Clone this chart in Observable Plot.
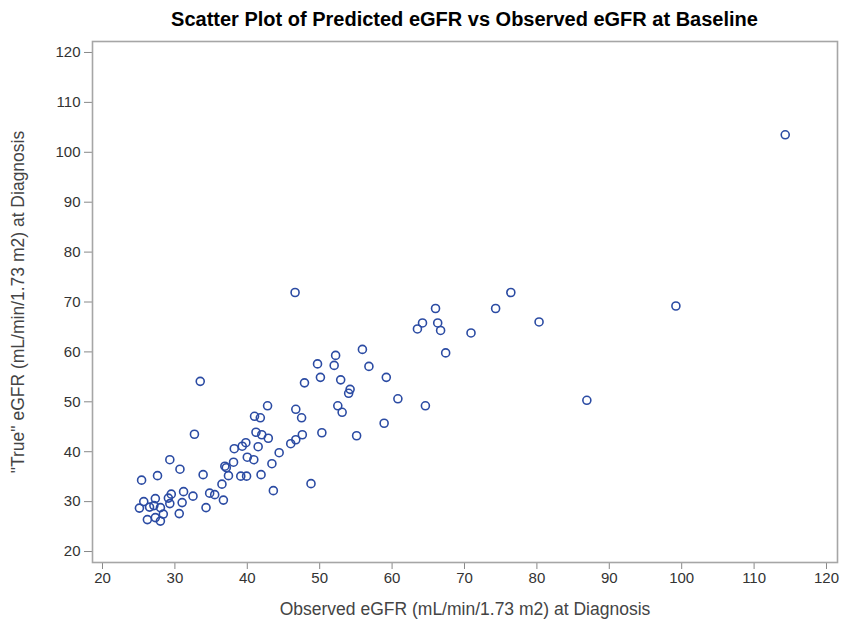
<!DOCTYPE html>
<html>
<head>
<meta charset="utf-8">
<script src="https://cdn.jsdelivr.net/npm/d3@7"></script>
<script src="https://cdn.jsdelivr.net/npm/@observablehq/plot@0.6"></script>
<style>
  body { margin: 0; background: #fff; font-family: "Liberation Sans", Arial, sans-serif; }
  #title { height: 36px; width: 843px; box-sizing: border-box; padding-left: 92px; padding-right: 6px;
           text-align: center; font-weight: bold; font-size: 20px; line-height: 38px; color: #000; }
</style>
</head>
<body>
<div id="title">Scatter Plot of Predicted eGFR vs Observed eGFR at Baseline</div>
<div id="chart"></div>
<script>
const observed = [25.1,25.4,25.7,26.2,26.5,27.1,27.3,27.3,27.6,28.0,28.0,28.4,29.1,29.3,29.3,29.5,30.6,30.7,31.0,31.2,32.5,32.7,33.5,33.9,34.3,34.8,35.5,36.5,36.7,36.9,37.1,37.4,38.1,38.2,39.1,39.3,39.8,39.9,40.0,40.9,41.0,41.2,41.5,41.8,41.9,42.0,42.8,42.9,43.4,43.6,44.4,46.0,46.6,46.7,46.7,47.5,47.6,47.9,48.8,49.7,50.1,50.3,52.0,52.2,52.5,52.9,53.1,54.0,54.2,55.1,55.9,56.8,58.9,59.2,60.8,63.5,64.2,64.6,66.0,66.3,66.7,67.4,70.9,74.3,76.4,80.3,86.9,99.2,114.3];
const trueEgfr = [28.7,34.3,30.0,26.4,28.9,29.2,30.6,26.8,35.2,28.8,26.1,27.5,30.7,29.6,38.4,31.5,27.6,36.5,29.8,32.0,31.1,43.5,54.1,35.4,28.8,31.7,31.4,33.5,30.3,37.1,36.8,35.2,37.9,40.6,35.1,41.1,41.8,35.1,38.9,38.4,47.1,43.9,41.0,46.8,35.4,43.4,49.2,42.7,37.6,32.2,39.8,41.6,71.9,42.4,48.5,46.8,43.4,53.8,33.6,57.6,54.9,43.8,57.3,59.3,49.2,54.4,47.9,51.7,52.5,43.2,60.5,57.1,45.7,54.9,50.6,64.6,65.8,49.2,68.7,65.8,64.3,59.8,63.8,68.7,71.9,66.0,50.3,69.2,103.5];
const xTicks = [20,30,40,50,60,70,80,90,100,110,120];
const yTicks = [20,30,40,50,60,70,80,90,100,110,120];
const xLabel = "Observed eGFR (mL/min/1.73 m2) at Diagnosis";
const yLabel = "\"True\" eGFR (mL/min/1.73 m2) at Diagnosis";

const data = observed.map((x, i) => ({x, y: trueEgfr[i]}));

const chart = Plot.plot({
  width: 843,
  height: 587,
  marginLeft: 92,
  marginRight: 6,
  marginTop: 5,
  marginBottom: 61,
  style: {fontFamily: "'Liberation Sans', Arial, sans-serif", fontSize: "15px", color: "#333"},
  x: {domain: [18.62, 121.52]},
  y: {domain: [17.8, 122.2]},
  marks: [
    Plot.axisX(xTicks, {tickSize: 7, tickPadding: 3, stroke: "#888", fill: "#333", fontSize: 15,
      label: null}),
    Plot.axisY(yTicks, {tickSize: 8, tickPadding: 4, stroke: "#888", fill: "#333", fontSize: 15,
      label: null}),
    Plot.text([xLabel], {frameAnchor: "bottom", dy: 52, fontSize: 17.5, fill: "#444"}),
    Plot.text([yLabel], {frameAnchor: "left", dx: -74, rotate: -90, textAnchor: "middle", fontSize: 17.5, fill: "#444"}),
    Plot.frame({stroke: "#a6a6a6", strokeWidth: 1.6}),
    Plot.dot(data, {x: "x", y: "y", r: 4, stroke: "#2b4ba3", strokeWidth: 1.6, fill: "none"})
  ]
});
document.getElementById("chart").appendChild(chart);
</script>
</body>
</html>
